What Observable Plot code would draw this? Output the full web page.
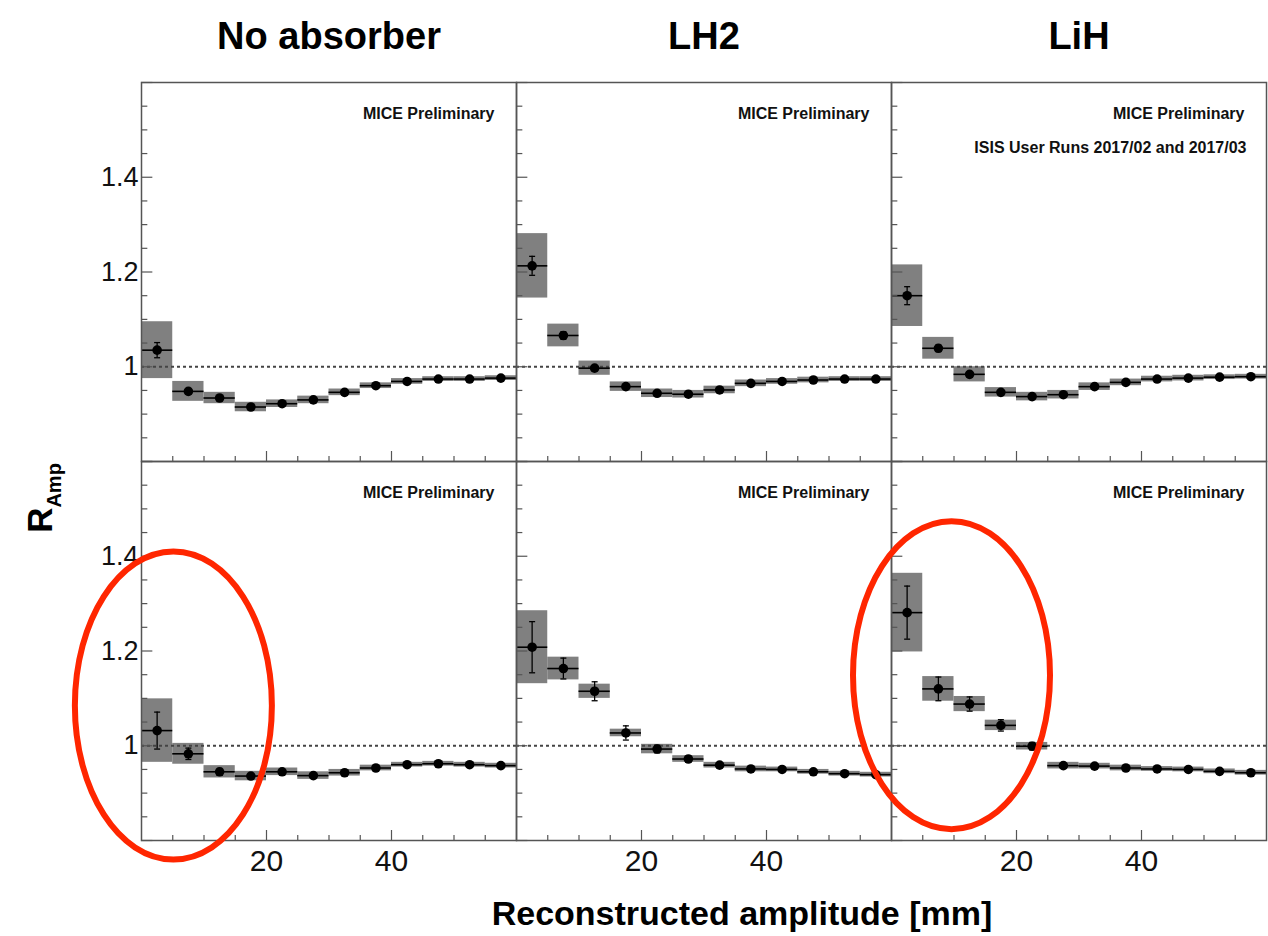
<!DOCTYPE html>
<html>
<head>
<meta charset="utf-8">
<script src="https://cdn.jsdelivr.net/npm/d3@7"></script>
<script src="https://cdn.jsdelivr.net/npm/@observablehq/plot@0.6"></script>
<style>
  html, body { margin: 0; padding: 0; background: #ffffff; overflow: hidden; }
  #chart { width: 1268px; height: 936px; }
</style>
</head>
<body>
<div id="chart"></div>
<script>
// ---------- data ----------
const materials = ["No absorber", "LH2", "LiH"];
const rows = ["top", "bottom"];
const binLo = [0, 5, 10, 15, 20, 25, 30, 35, 40, 45, 50, 55];
const binWidth = 5;

// top row
const noAbsTopV   = [1.035, 0.948, 0.934, 0.915, 0.922, 0.930, 0.946, 0.960, 0.969, 0.974, 0.974, 0.976];
const noAbsTopSys = [0.060, 0.021, 0.012, 0.010, 0.008, 0.008, 0.007, 0.006, 0.006, 0.005, 0.005, 0.005];
const noAbsTopSta = [0.016, 0.006, 0.004, 0.004, 0.003, 0.003, 0.003, 0.003, 0.003, 0.003, 0.003, 0.003];

const lh2TopV   = [1.213, 1.066, 0.997, 0.958, 0.944, 0.942, 0.951, 0.965, 0.969, 0.972, 0.974, 0.974];
const lh2TopSys = [0.068, 0.024, 0.015, 0.010, 0.009, 0.008, 0.008, 0.007, 0.006, 0.006, 0.005, 0.005];
const lh2TopSta = [0.020, 0.008, 0.005, 0.004, 0.003, 0.003, 0.003, 0.003, 0.003, 0.003, 0.003, 0.003];

const lihTopV   = [1.150, 1.039, 0.984, 0.946, 0.937, 0.941, 0.958, 0.967, 0.974, 0.976, 0.978, 0.979];
const lihTopSys = [0.065, 0.023, 0.016, 0.010, 0.009, 0.009, 0.008, 0.007, 0.006, 0.006, 0.005, 0.005];
const lihTopSta = [0.019, 0.007, 0.005, 0.004, 0.003, 0.003, 0.003, 0.003, 0.003, 0.003, 0.003, 0.003];

// bottom row
const noAbsBotV   = [1.032, 0.983, 0.945, 0.936, 0.945, 0.937, 0.943, 0.953, 0.960, 0.962, 0.960, 0.958];
const noAbsBotSys = [0.067, 0.022, 0.013, 0.010, 0.008, 0.008, 0.007, 0.006, 0.005, 0.005, 0.005, 0.005];
const noAbsBotSta = [0.039, 0.012, 0.007, 0.005, 0.004, 0.004, 0.004, 0.003, 0.003, 0.003, 0.003, 0.003];

const lh2BotV   = [1.208, 1.163, 1.115, 1.027, 0.993, 0.972, 0.959, 0.951, 0.950, 0.945, 0.941, 0.939];
const lh2BotSys = [0.077, 0.024, 0.015, 0.008, 0.010, 0.007, 0.006, 0.006, 0.005, 0.005, 0.005, 0.005];
const lh2BotSta = [0.054, 0.022, 0.020, 0.015, 0.008, 0.006, 0.005, 0.004, 0.004, 0.004, 0.004, 0.004];

const lihBotV   = [1.281, 1.120, 1.088, 1.043, 0.999, 0.958, 0.957, 0.953, 0.951, 0.950, 0.946, 0.943];
const lihBotSys = [0.083, 0.026, 0.016, 0.011, 0.008, 0.007, 0.006, 0.006, 0.005, 0.005, 0.005, 0.005];
const lihBotSta = [0.056, 0.025, 0.015, 0.012, 0.008, 0.005, 0.004, 0.004, 0.004, 0.004, 0.004, 0.004];

// ticks and labels
const yMajor = [0.8, 1.0, 1.2, 1.4, 1.6];
const yMinor = [0.85, 0.9, 0.95, 1.05, 1.1, 1.15, 1.25, 1.3, 1.35, 1.45, 1.5, 1.55];
const yLabelValues = [1.0, 1.2, 1.4];
const yLabelTexts = ["1", "1.2", "1.4"];
const xMajor = [20, 40];
const xMinor = [5, 10, 15, 25, 30, 35, 45, 50, 55];
const xLabelValues = [20, 40];
const xLabelTexts = ["20", "40"];

const tagText = "MICE Preliminary";
const runText = "ISIS User Runs 2017/02 and 2017/03";
const xTitle = "Reconstructed amplitude [mm]";

// red annotation ellipses (centre in data coordinates of their panel)
const ringPanel = ["No absorber", "LiH"];
const ringX = [5.1, 9.6];
const ringY = [1.085, 1.149];

// ---------- build table ----------
const panels = [
  {m: "No absorber", r: "top", v: noAbsTopV, s: noAbsTopSys, e: noAbsTopSta},
  {m: "LH2", r: "top", v: lh2TopV, s: lh2TopSys, e: lh2TopSta},
  {m: "LiH", r: "top", v: lihTopV, s: lihTopSys, e: lihTopSta},
  {m: "No absorber", r: "bottom", v: noAbsBotV, s: noAbsBotSys, e: noAbsBotSta},
  {m: "LH2", r: "bottom", v: lh2BotV, s: lh2BotSys, e: lh2BotSta},
  {m: "LiH", r: "bottom", v: lihBotV, s: lihBotSys, e: lihBotSta}
];
const table = panels.flatMap(p => binLo.map((lo, i) => ({
  material: p.m, row: p.r, lo, hi: lo + binWidth, mid: lo + binWidth / 2,
  v: p.v[i], sys: p.s[i], stat: p.e[i]
})));
const rings = ringPanel.map((m, i) => ({material: m, row: "bottom", x: ringX[i], y: ringY[i]}));

// ---------- layout ----------
const W = 1268, H = 936, ML = 140, MR = 1, MT = 82, MB = 96;
const facetW = (W - ML - MR) / 3;
const facetH = (H - MT - MB) / 2;
const axisColor = "#555";
const font = "'Liberation Sans', Arial, Helvetica, sans-serif";

function ellipseSymbol(rx, ry) {
  const k = 0.5523;
  return {
    draw(c) {
      c.moveTo(rx, 0);
      c.bezierCurveTo(rx, ry * k, rx * k, ry, 0, ry);
      c.bezierCurveTo(-rx * k, ry, -rx, ry * k, -rx, 0);
      c.bezierCurveTo(-rx, -ry * k, -rx * k, -ry, 0, -ry);
      c.bezierCurveTo(rx * k, -ry, rx, -ry * k, rx, 0);
      c.closePath();
    }
  };
}
const capSymbol = {
  draw(c) { c.moveTo(-3, 0); c.lineTo(3, 0); }
};

const plot = Plot.plot({
  width: W,
  height: H,
  marginLeft: ML,
  marginRight: MR,
  marginTop: MT,
  marginBottom: MB,
  style: {fontFamily: font, background: "#ffffff", color: "#000"},
  x: {domain: [0, 60], axis: null},
  y: {domain: [0.8, 1.6], axis: null},
  fx: {domain: materials, padding: 0, axis: null},
  fy: {domain: rows, padding: 0, axis: null},
  marks: [
    // systematic boxes
    Plot.rect(table, {fx: "material", fy: "row", x1: "lo", x2: "hi",
      y1: d => d.v - d.sys, y2: d => d.v + d.sys, fill: "#808080"}),
    // reference line at 1
    Plot.ruleY([1], {stroke: "#444", strokeWidth: 2, strokeDasharray: "3,3"}),
    // horizontal bin-width bars
    Plot.ruleY(table, {fx: "material", fy: "row", y: "v", x1: "lo", x2: "hi",
      stroke: "#000", strokeWidth: 1.6}),
    // statistical error bars
    Plot.ruleX(table, {fx: "material", fy: "row", x: "mid",
      y1: d => d.v - d.stat, y2: d => d.v + d.stat, stroke: "#000", strokeWidth: 1.3}),
    Plot.dot(table, {fx: "material", fy: "row", x: "mid", y: d => d.v + d.stat,
      symbol: capSymbol, fill: "none", stroke: "#000", strokeWidth: 1.3}),
    Plot.dot(table, {fx: "material", fy: "row", x: "mid", y: d => d.v - d.stat,
      symbol: capSymbol, fill: "none", stroke: "#000", strokeWidth: 1.3}),
    // markers
    Plot.dot(table, {fx: "material", fy: "row", x: "mid", y: "v", r: 4.8, fill: "#000"}),
    // frame & ticks
    Plot.frame({stroke: axisColor, strokeWidth: 1.5}),
    Plot.tickY(yMajor, {y: d => d, insetRight: facetW - 12, stroke: axisColor, strokeWidth: 1.2}),
    Plot.tickY(yMinor, {y: d => d, insetRight: facetW - 7, stroke: axisColor, strokeWidth: 1.2}),
    Plot.tickX(xMajor, {x: d => d, insetTop: facetH - 10, stroke: axisColor, strokeWidth: 1.2}),
    Plot.tickX(xMinor, {x: d => d, insetTop: facetH - 5, stroke: axisColor, strokeWidth: 1.2}),
    // tick labels
    Plot.text(yLabelValues, {fx: () => "No absorber", y: d => d, text: (d, i) => yLabelTexts[i],
      frameAnchor: "left", textAnchor: "end", dx: -3, lineAnchor: "middle",
      fontSize: 27, fill: "#111"}),
    Plot.text(xLabelValues, {fy: () => "bottom", x: d => d, text: (d, i) => xLabelTexts[i],
      frameAnchor: "bottom", textAnchor: "middle", lineAnchor: "top", dy: 9,
      fontSize: 30, fill: "#111"}),
    // panel titles
    Plot.text(materials, {fx: d => d, fy: () => "top", text: d => d,
      frameAnchor: "top", lineAnchor: "middle", dy: -46,
      fontSize: 38, fontWeight: "bold", fill: "#000"}),
    // in-panel labels
    Plot.text([tagText], {text: d => d, frameAnchor: "top-right", textAnchor: "end",
      lineAnchor: "middle", dx: -22, dy: 31, fontSize: 16, fontWeight: "bold", fill: "#111"}),
    Plot.text([runText], {fx: () => "LiH", fy: () => "top", text: d => d,
      frameAnchor: "top-right", textAnchor: "end", lineAnchor: "middle",
      dx: -20, dy: 65, fontSize: 16, fontWeight: "bold", fill: "#111"}),
    // red annotation rings
    Plot.dot(rings, {fx: "material", fy: "row", x: "x", y: "y",
      symbol: ellipseSymbol(98.5, 154), fill: "none", stroke: "#ff2600", strokeWidth: 6})
  ]
});

const svg = d3.select(plot);
// y axis title R_Amp
const yt = svg.append("text")
  .attr("transform", "translate(52,498) rotate(-90)")
  .attr("font-family", font)
  .attr("font-weight", "bold")
  .attr("fill", "#000");
yt.append("tspan").attr("font-size", 35).text("R");
yt.append("tspan").attr("font-size", 20).attr("dy", 9).text("Amp");
// x axis title
svg.append("text")
  .attr("x", 742).attr("y", 925)
  .attr("text-anchor", "middle")
  .attr("font-family", font)
  .attr("font-weight", "bold")
  .attr("font-size", 34)
  .attr("fill", "#000")
  .text(xTitle);

document.getElementById("chart").appendChild(plot);
</script>
</body>
</html>
